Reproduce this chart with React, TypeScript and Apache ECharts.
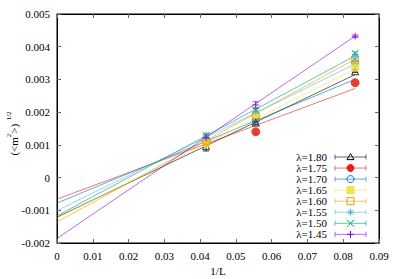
import React, { useEffect, useRef } from 'react';
import * as echarts from 'echarts';

const lambdaLabels = ['λ=1.80', 'λ=1.75', 'λ=1.70', 'λ=1.65', 'λ=1.60', 'λ=1.55', 'λ=1.50', 'λ=1.45'];
const invL = [1 / 24, 1 / 18, 1 / 12];

const values180 = [0.00096, 0.00168, 0.00325];
const values175 = [0.00112, 0.0014, 0.0029];
const values170 = [0.00115, 0.00174, 0.0035];
const values165 = [0.00105, 0.00194, 0.00338];
const values160 = [0.0011, 0.00186, 0.0036];
const values155 = [0.00125, 0.00201, 0.00372];
const values150 = [0.00128, 0.00207, 0.0038];
const values145 = [0.00122, 0.00222, 0.00432];

const errors180 = [0.00015, 0.00006, 0.00004];
const errors175 = [0.00008, 0.00005, 0.00004];
const errors170 = [0.00008, 0.00005, 0.00004];
const errors165 = [0.00008, 0.00005, 0.00004];
const errors160 = [0.00008, 0.00005, 0.00004];
const errors155 = [0.00008, 0.00005, 0.00004];
const errors150 = [0.00008, 0.00005, 0.00004];
const errors145 = [0.00008, 0.0001, 0.00004];

const fitIntercepts = [-0.00121, -0.00066, -0.00078, -0.00124, -0.00136, -0.00101, -0.00117, -0.00186];
const fitSlopes = [0.0523, 0.0406, 0.0454, 0.0547, 0.0598, 0.0538, 0.0587, 0.0742];
const fitRange = [0, 1 / 12];

const yTicks = { min: -0.002, max: 0.005, interval: 0.001 };
const xTicks = { min: 0, max: 0.09, interval: 0.01 };

const allValues = [values180, values175, values170, values165, values160, values155, values150, values145];
const allErrors = [errors180, errors175, errors170, errors165, errors160, errors155, errors150, errors145];

const colors = ['#000000', '#e51e10', '#0072b2', '#f0e442', '#e69f00', '#56b4e9', '#009e73', '#9400d3'];
const PLUS = 'path://M5,0L5,10M0,5L10,5';
const CROSS = 'path://M0,0L10,10M10,0L0,10';
const STAR = 'path://M5,0L5,10M0,5L10,5M1.5,1.5L8.5,8.5M8.5,1.5L1.5,8.5';
const symbols = ['triangle', 'circle', 'circle', 'rect', 'rect', STAR, CROSS, PLUS];
const filled = [false, true, false, true, false, false, false, false];
const markerKinds = ['tri', 'circle', 'circle', 'rect', 'rect', 'star', 'cross', 'plus'];

const FONT = 'Liberation Serif, serif';

function fmt(v: number, d: number) {
  if (Math.abs(v) < 1e-12) return '0';
  return String(+v.toFixed(d));
}

function legendGraphics() {
  const els: any[] = [];
  const x0 = 335, x1 = 366, xm = 350.5, textX = 327, y0 = 157, dy = 11.05;
  lambdaLabels.forEach((lab, i) => {
    const y = y0 + dy * i;
    const c = colors[i];
    const lineStroke = { stroke: c, lineWidth: 1, opacity: 0.6 };
    els.push({ type: 'text', x: textX, y, style: { text: lab, fill: '#000', fontFamily: FONT, fontSize: 11, align: 'right', verticalAlign: 'middle' } });
    els.push({ type: 'line', shape: { x1: x0, y1: y, x2: x1, y2: y }, style: lineStroke });
    els.push({ type: 'line', shape: { x1: x0, y1: y - 2.5, x2: x0, y2: y + 2.5 }, style: lineStroke });
    els.push({ type: 'line', shape: { x1: x1, y1: y - 2.5, x2: x1, y2: y + 2.5 }, style: lineStroke });
    const ms = { stroke: c, lineWidth: 1, fill: filled[i] ? c : '#fff' };
    const r = 3.5;
    switch (markerKinds[i]) {
      case 'tri':
        els.push({ type: 'polygon', shape: { points: [[xm, y - r], [xm + r, y + r * 0.75], [xm - r, y + r * 0.75]] }, style: { ...ms, fill: 'none' } });
        break;
      case 'circle':
        els.push({ type: 'circle', shape: { cx: xm, cy: y, r }, style: filled[i] ? ms : { ...ms, fill: 'none' } });
        break;
      case 'rect':
        els.push({ type: 'rect', shape: { x: xm - r, y: y - r, width: 2 * r, height: 2 * r }, style: filled[i] ? ms : { ...ms, fill: 'none' } });
        break;
      case 'star':
        els.push({ type: 'line', shape: { x1: xm - r, y1: y, x2: xm + r, y2: y }, style: ms });
        els.push({ type: 'line', shape: { x1: xm, y1: y - r, x2: xm, y2: y + r }, style: ms });
        els.push({ type: 'line', shape: { x1: xm - 2.5, y1: y - 2.5, x2: xm + 2.5, y2: y + 2.5 }, style: ms });
        els.push({ type: 'line', shape: { x1: xm + 2.5, y1: y - 2.5, x2: xm - 2.5, y2: y + 2.5 }, style: ms });
        break;
      case 'cross':
        els.push({ type: 'line', shape: { x1: xm - r, y1: y - r, x2: xm + r, y2: y + r }, style: ms });
        els.push({ type: 'line', shape: { x1: xm + r, y1: y - r, x2: xm - r, y2: y + r }, style: ms });
        break;
      case 'plus':
        els.push({ type: 'line', shape: { x1: xm - r, y1: y, x2: xm + r, y2: y }, style: ms });
        els.push({ type: 'line', shape: { x1: xm, y1: y - r, x2: xm, y2: y + r }, style: ms });
        break;
    }
  });
  return els;
}

export default function App() {
  const ref = useRef<HTMLDivElement>(null);
  useEffect(() => {
    if (!ref.current) return;
    const chart = echarts.init(ref.current, null, { renderer: 'svg' });
    const series: any[] = [];
    lambdaLabels.forEach((lab, i) => {
      series.push({
        type: 'line',
        name: lab + ' fit',
        data: fitRange.map((x) => [x, fitIntercepts[i] + fitSlopes[i] * x]),
        showSymbol: false,
        symbol: 'none',
        lineStyle: { color: colors[i], width: 1, opacity: 0.6 },
        z: 2,
        silent: true,
      });
    });
    lambdaLabels.forEach((lab, i) => {
      const c = colors[i];
      series.push({
        type: 'custom',
        name: lab + ' err',
        data: invL.map((x, k) => [x, allValues[i][k], allErrors[i][k]]),
        encode: { x: 0, y: 1 },
        z: 3,
        renderItem: (params: any, api: any) => {
          const x = api.value(0), y = api.value(1), e = api.value(2);
          const lo = api.coord([x, y - e]);
          const hi = api.coord([x, y + e]);
          const w = 3;
          const style = { stroke: c, lineWidth: 1, opacity: 0.7 };
          return {
            type: 'group',
            children: [
              { type: 'line', shape: { x1: lo[0], y1: lo[1], x2: hi[0], y2: hi[1] }, style },
              { type: 'line', shape: { x1: lo[0] - w, y1: lo[1], x2: lo[0] + w, y2: lo[1] }, style },
              { type: 'line', shape: { x1: hi[0] - w, y1: hi[1], x2: hi[0] + w, y2: hi[1] }, style },
            ],
          };
        },
      });
    });
    lambdaLabels.forEach((lab, i) => {
      const c = colors[i];
      series.push({
        type: 'scatter',
        name: lab,
        data: invL.map((x, k) => [x, allValues[i][k]]),
        symbol: symbols[i],
        symbolSize: i === 1 ? 8 : 7,
        itemStyle: filled[i]
          ? { color: c, borderColor: c, borderWidth: 1 }
          : { color: 'rgba(0,0,0,0)', borderColor: c, borderWidth: 1 },
        z: 4,
      });
    });

    const axisCommon = {
      type: 'value',
      axisLine: { show: true, onZero: false, lineStyle: { color: '#000', width: 1 } },
      axisTick: { show: true, inside: true, length: 4, lineStyle: { color: '#666' } },
      splitLine: { show: false },
    };

    chart.setOption({
      animation: false,
      backgroundColor: '#fff',
      grid: {
        left: 57, right: 20, top: 14, bottom: 36,
        show: true, borderColor: '#000', borderWidth: 1,
        containLabel: false, outerBoundsMode: 'none',
      },
      xAxis: [
        {
          ...axisCommon,
          position: 'bottom',
          min: xTicks.min,
          max: xTicks.max,
          interval: xTicks.interval,
          axisLabel: { fontFamily: FONT, fontSize: 11, color: '#000', margin: 7, formatter: (v: number) => fmt(v, 2) },
          name: '1/L',
          nameLocation: 'middle',
          nameGap: 22,
          nameMoveOverlap: false,
          nameTextStyle: { fontFamily: FONT, fontSize: 11, color: '#000' },
        },
        {
          ...axisCommon,
          position: 'top',
          min: xTicks.min,
          max: xTicks.max,
          interval: xTicks.interval,
          axisLabel: { show: false },
        },
      ],
      yAxis: [
        {
          ...axisCommon,
          position: 'left',
          min: yTicks.min,
          max: yTicks.max,
          interval: yTicks.interval,
          axisLabel: { fontFamily: FONT, fontSize: 11, color: '#000', margin: 7, formatter: (v: number) => fmt(v, 3) },
          name: '{a|(<m}{s|2}{a|>)}{s|  1/2}',
          nameLocation: 'middle',
          nameRotate: 90,
          nameGap: 38,
          nameMoveOverlap: false,
          nameTextStyle: {
            fontFamily: FONT,
            color: '#000',
            padding: [0, 10, 0, 0],
            rich: {
              a: { fontFamily: FONT, fontSize: 11, color: '#000', lineHeight: 14, verticalAlign: 'bottom' },
              s: { fontFamily: FONT, fontSize: 7, color: '#000', lineHeight: 8, verticalAlign: 'top' },
            },
          },
        },
        {
          ...axisCommon,
          position: 'right',
          min: yTicks.min,
          max: yTicks.max,
          interval: yTicks.interval,
          axisLabel: { show: false },
        },
      ],
      graphic: legendGraphics(),
      series,
    });
    return () => chart.dispose();
  }, []);
  return <div ref={ref} style={{ position: 'fixed', left: 0, top: 0, width: 399, height: 279 }} />;
}
